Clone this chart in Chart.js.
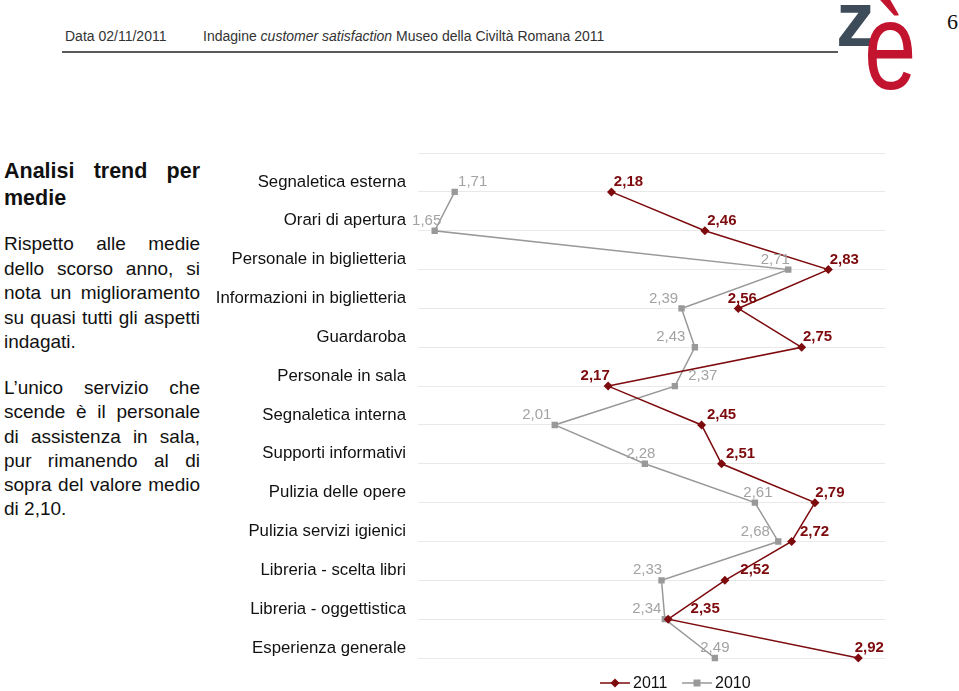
<!DOCTYPE html>
<html lang="it">
<head>
  <meta charset="UTF-8" />
  <title>Analisi trend per medie</title>
  <script src="https://cdn.jsdelivr.net/npm/chart.js"></script>
  <style>
    body {
      margin: 0;
      width: 959px;
      height: 691px;
      background: #fff;
      font-family: Helvetica, Arial, "Liberation Sans", sans-serif;
      position: relative;
      overflow: hidden;
    }

    .header { position: absolute; top: 28px; font-size: 14px; color: #333; }
    .header em { font-style: italic; }
    .rule { position: absolute; left: 62px; top: 51px; width: 776px; height: 2px; background: #5a5a5a; }

    .logo-z { position: absolute; left: 836px; top: -26px; font-size: 78px; font-weight: bold; color: #3e4c59; }
    .logo-e { position: absolute; left: 864px; top: -25px; font-size: 124px; color: #c3142f; transform: scaleX(0.76); transform-origin: left top; }
    .page { position: absolute; left: 947px; top: 9px; font-family: "Liberation Serif", serif; font-size: 22px; color: #111; }

    .side { position: absolute; left: 4px; width: 196px; color: #111; }
    .side div { text-align: justify; text-align-last: justify; white-space: nowrap; }
    .side div.last { text-align-last: left; }
    .title { top: 158px; font-size: 21.5px; font-weight: bold; line-height: 27px; }
    .p1 { top: 232px; font-size: 19px; line-height: 24.5px; }
    .p2 { top: 376px; font-size: 19px; line-height: 24.3px; }

    #chartBox { position: absolute; left: 210px; top: 131px; width: 690px; height: 560px; }
  </style>
</head>
<body>

  <div class="header" style="left:65px">Data 02/11/2011</div>
  <div class="header" style="left:203px">Indagine <em>customer satisfaction</em> Museo della Civiltà Romana 2011</div>
  <div class="rule"></div>
  <div class="logo-z">z</div>
  <div class="logo-e">è</div>
  <div class="page">6</div>

  <div class="side title">
    <div>Analisi trend per</div>
    <div class="last">medie</div>
  </div>
  <div class="side p1">
    <div>Rispetto alle medie</div>
    <div>dello scorso anno, si</div>
    <div>nota un miglioramento</div>
    <div>su quasi tutti gli aspetti</div>
    <div class="last">indagati.</div>
  </div>
  <div class="side p2">
    <div>L’unico servizio che</div>
    <div>scende è il personale</div>
    <div>di assistenza in sala,</div>
    <div>pur rimanendo al di</div>
    <div>sopra del valore medio</div>
    <div class="last">di 2,10.</div>
  </div>

  <div id="chartBox"><canvas id="trend"></canvas></div>

  <script>
    // dati
    const categories = [
      "Segnaletica esterna", "Orari di apertura", "Personale in biglietteria",
      "Informazioni in biglietteria", "Guardaroba", "Personale in sala",
      "Segnaletica interna", "Supporti informativi", "Pulizia delle opere",
      "Pulizia servizi igienici", "Libreria - scelta libri", "Libreria - oggettistica",
      "Esperienza generale"
    ];
    const media2011 = [2.18, 2.46, 2.83, 2.56, 2.75, 2.17, 2.45, 2.51, 2.79, 2.72, 2.52, 2.35, 2.92];
    const media2010 = [1.71, 1.65, 2.71, 2.39, 2.43, 2.37, 2.01, 2.28, 2.61, 2.68, 2.33, 2.34, 2.49];
    const seriesNames = ["2011", "2010"];

    const red = "#7d0a0d";
    const grey = "#999999";

    // spostamento orizzontale delle etichette rispetto al punto
    const shift2011 = [17, 17, 16, 4, 16, -13, 20, 19, 15, 23, 30, 37, 11];
    const shift2010 = [18, -8, -13, -18, -24, 28, -18, -4, 3, -23, -14, -18, 0];

    const fmt = v => v.toFixed(2).replace(".", ",");

    // etichette dei valori + legenda
    const valueLabels = {
      id: "valueLabels",
      afterDatasetsDraw(chart) {
        const ctx = chart.ctx;
        ctx.save();
        ctx.textAlign = "center";
        ctx.textBaseline = "middle";
        chart.data.datasets.forEach((ds, di) => {
          const meta = chart.getDatasetMeta(di);
          const shifts = di === 0 ? shift2011 : shift2010;
          ctx.font = (di === 0 ? "bold " : "") + "15px Helvetica, Arial, 'Liberation Sans', sans-serif";
          ctx.fillStyle = di === 0 ? red : "#a3a3a3";
          meta.data.forEach((pt, i) => {
            ctx.fillText(fmt(ds.data[i].x), pt.x + shifts[i], pt.y - 10);
          });
        });

        // legenda
        const ly = chart.chartArea.bottom + 25;
        const items = [
          { x: 390, color: red, style: "diamond", text: seriesNames[0] },
          { x: 472, color: grey, style: "square", text: seriesNames[1] }
        ];
        items.forEach(it => {
          ctx.strokeStyle = it.color;
          ctx.lineWidth = 1.5;
          ctx.beginPath();
          ctx.moveTo(it.x, ly);
          ctx.lineTo(it.x + 30, ly);
          ctx.stroke();
          ctx.fillStyle = it.color;
          const cx = it.x + 15;
          if (it.style === "diamond") {
            ctx.beginPath();
            ctx.moveTo(cx, ly - 4.5);
            ctx.lineTo(cx + 4.5, ly);
            ctx.lineTo(cx, ly + 4.5);
            ctx.lineTo(cx - 4.5, ly);
            ctx.closePath();
            ctx.fill();
          } else {
            ctx.fillRect(cx - 3.5, ly - 3.5, 7, 7);
          }
          ctx.fillStyle = "#111";
          ctx.textAlign = "left";
          ctx.font = "16px Helvetica, Arial, 'Liberation Sans', sans-serif";
          ctx.fillText(it.text, it.x + 33, ly + 1);
        });
        ctx.restore();
      }
    };

    const toPoints = vals => categories.map((c, i) => ({ x: vals[i], y: c }));

    new Chart(document.getElementById("trend"), {
      type: "line",
      data: {
        datasets: [
          {
            label: seriesNames[0],
            data: toPoints(media2011),
            borderColor: red,
            backgroundColor: red,
            borderWidth: 1.5,
            pointStyle: "rectRot",
            pointRadius: 4.5,
            pointBorderWidth: 0
          },
          {
            label: seriesNames[1],
            data: toPoints(media2010),
            borderColor: grey,
            backgroundColor: grey,
            borderWidth: 1.5,
            pointStyle: "rect",
            pointRadius: 4.5,
            pointBorderWidth: 0
          }
        ]
      },
      options: {
        responsive: true,
        maintainAspectRatio: false,
        animation: false,
        events: [],
        layout: { padding: { top: 13, right: 15, bottom: 33, left: 0 } },
        plugins: {
          legend: { display: false },
          tooltip: { enabled: false }
        },
        scales: {
          x: {
            type: "linear",
            min: 1.6,
            max: 3.0,
            display: false
          },
          y: {
            type: "category",
            labels: [""].concat(categories),
            offset: false,
            afterFit: scale => { scale.width = 208; },
            border: { display: false },
            grid: { color: "#e9e9e9", lineWidth: 1, drawTicks: false },
            ticks: {
              autoSkip: false,
              padding: 12,
              labelOffset: -10,
              color: "#111",
              font: { size: 16.8, family: "Helvetica, Arial, 'Liberation Sans', sans-serif" }
            }
          }
        }
      },
      plugins: [valueLabels]
    });
  </script>
</body>
</html>
